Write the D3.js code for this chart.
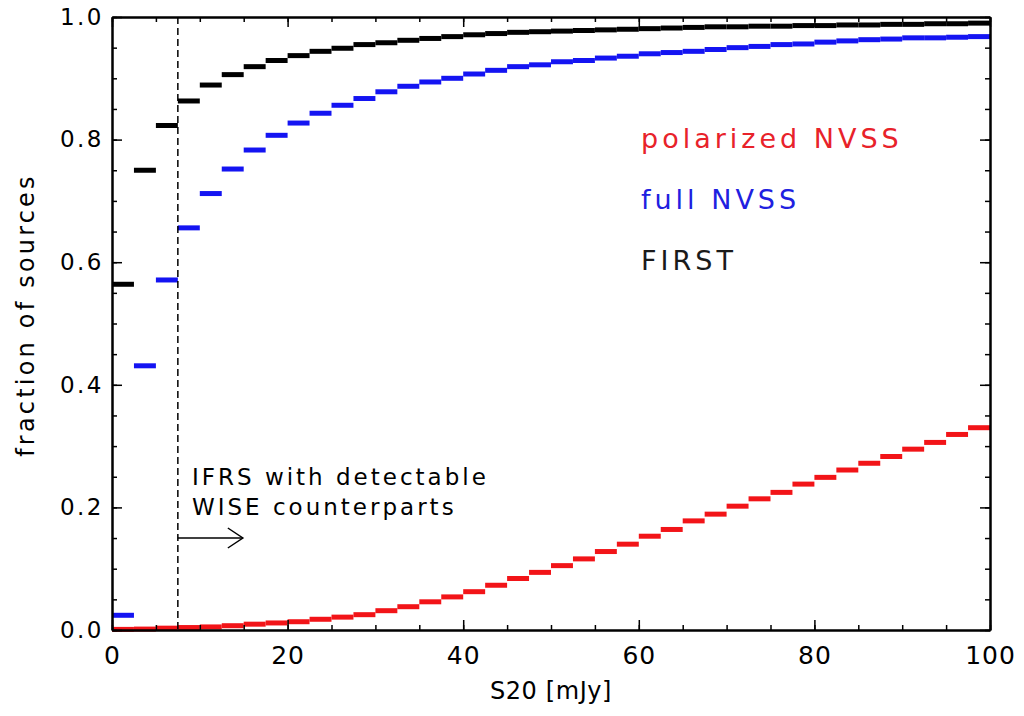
<!DOCTYPE html>
<html>
<head>
<meta charset="utf-8">
<script src="https://cdn.jsdelivr.net/npm/d3@7"></script>
<style>
  body { margin: 0; background: #fff; }
  text { font-family: "DejaVu Sans", sans-serif; }
</style>
</head>
<body>
<script>
// bin lower edges in mJy (bins are 2.5 mJy wide)
const binLo = [0, 2.5, 5, 7.5, 10, 12.5, 15, 17.5, 20, 22.5, 25, 27.5, 30, 32.5, 35, 37.5,
  40, 42.5, 45, 47.5, 50, 52.5, 55, 57.5, 60, 62.5, 65, 67.5, 70, 72.5, 75, 77.5,
  80, 82.5, 85, 87.5, 90, 92.5, 95, 97.5];
const binWidth = 2.5;

const first = [0.564, 0.750, 0.823, 0.863, 0.889, 0.906, 0.919, 0.929, 0.937, 0.944,
  0.949, 0.955, 0.958, 0.962, 0.965, 0.968, 0.971, 0.973, 0.975, 0.976,
  0.977, 0.978, 0.979, 0.980, 0.981, 0.982, 0.983, 0.984, 0.984, 0.985,
  0.985, 0.986, 0.986, 0.987, 0.987, 0.988, 0.988, 0.989, 0.989, 0.990];
const fullNvss = [0.024, 0.431, 0.571, 0.656, 0.712, 0.752, 0.783, 0.807, 0.827, 0.843,
  0.856, 0.867, 0.878, 0.887, 0.894, 0.900, 0.907, 0.913, 0.919, 0.922,
  0.927, 0.929, 0.933, 0.936, 0.940, 0.942, 0.944, 0.947, 0.950, 0.952,
  0.955, 0.956, 0.959, 0.961, 0.963, 0.964, 0.966, 0.966, 0.967, 0.968];
const polNvss = [0.001, 0.0015, 0.003, 0.004, 0.005, 0.007, 0.0095, 0.0115, 0.0135, 0.0175,
  0.021, 0.025, 0.0315, 0.038, 0.046, 0.054, 0.0625, 0.073, 0.084, 0.094,
  0.105, 0.116, 0.128, 0.140, 0.153, 0.164, 0.178, 0.189, 0.202, 0.214,
  0.2245, 0.238, 0.249, 0.261, 0.272, 0.283, 0.295, 0.306, 0.319, 0.330];

const xTicks = [0, 20, 40, 60, 80, 100];
const yTicks = [0, 0.2, 0.4, 0.6, 0.8, 1.0];
const xMinor = [0, 5, 10, 15, 20, 25, 30, 35, 40, 45, 50, 55, 60, 65, 70, 75, 80, 85, 90, 95, 100];
const yMinor = [0, 0.05, 0.1, 0.15, 0.2, 0.25, 0.3, 0.35, 0.4, 0.45, 0.5, 0.55, 0.6, 0.65,
  0.7, 0.75, 0.8, 0.85, 0.9, 0.95, 1.0];
const wiseLimit = 7.5;

const width = 1024;
const height = 716;
const margin = { left: 112, right: 34, top: 17, bottom: 86 };

const svg = d3.select("body").append("svg")
  .attr("width", width)
  .attr("height", height);

const x = d3.scaleLinear().domain([0, 100]).range([margin.left, width - margin.right]);
const y = d3.scaleLinear().domain([0, 1]).range([height - margin.bottom, margin.top]);

function drawSeries(values, color) {
  svg.append("g")
    .selectAll("line")
    .data(values)
    .enter()
    .append("line")
    .attr("x1", (d, i) => x(binLo[i]))
    .attr("x2", (d, i) => x(binLo[i] + binWidth))
    .attr("y1", (d) => y(d))
    .attr("y2", (d) => y(d))
    .attr("stroke", color)
    .attr("stroke-width", 5);
}

drawSeries(polNvss, "#f21418");
drawSeries(fullNvss, "#1414f2");
drawSeries(first, "#000");

// dashed limit line
svg.append("line")
  .attr("x1", x(wiseLimit)).attr("x2", x(wiseLimit))
  .attr("y1", y(1)).attr("y2", y(0))
  .attr("stroke", "#000")
  .attr("stroke-width", 1.5)
  .attr("stroke-dasharray", "7,4");

// axes
function styleAxis(g) {
  g.selectAll("path").attr("stroke", "#000").attr("stroke-width", 2);
  g.selectAll("line").attr("stroke", "#000").attr("stroke-width", 1.5);
  g.selectAll("text").attr("fill", "#000")
    .style("font-family", "DejaVu Sans, sans-serif");
}

const bottomY = y(0), topY = y(1), leftX = x(0), rightX = x(100);

svg.append("g").attr("transform", "translate(0," + bottomY + ")")
  .call(d3.axisBottom(x).tickValues(xMinor).tickSizeInner(-5).tickSizeOuter(0).tickFormat(""))
  .call(styleAxis);
svg.append("g").attr("transform", "translate(0," + bottomY + ")")
  .call(d3.axisBottom(x).tickValues(xTicks).tickSizeInner(-10).tickSizeOuter(0)
    .tickPadding(16).tickFormat(d3.format("d")))
  .call(styleAxis)
  .call((g) => g.selectAll("text").style("font-size", "25px").style("letter-spacing", "1px"));

svg.append("g").attr("transform", "translate(0," + topY + ")")
  .call(d3.axisTop(x).tickValues(xMinor).tickSizeInner(-5).tickSizeOuter(0).tickFormat(""))
  .call(styleAxis);
svg.append("g").attr("transform", "translate(0," + topY + ")")
  .call(d3.axisTop(x).tickValues(xTicks).tickSizeInner(-10).tickSizeOuter(0).tickFormat(""))
  .call(styleAxis);

svg.append("g").attr("transform", "translate(" + leftX + ",0)")
  .call(d3.axisLeft(y).tickValues(yMinor).tickSizeInner(-5).tickSizeOuter(0).tickFormat(""))
  .call(styleAxis);
svg.append("g").attr("transform", "translate(" + leftX + ",0)")
  .call(d3.axisLeft(y).tickValues(yTicks).tickSizeInner(-10).tickSizeOuter(0)
    .tickPadding(8).tickFormat(d3.format(".1f")))
  .call(styleAxis)
  .call((g) => g.selectAll("text").style("font-size", "23px").style("letter-spacing", "2.5px"));

svg.append("g").attr("transform", "translate(" + rightX + ",0)")
  .call(d3.axisRight(y).tickValues(yMinor).tickSizeInner(-5).tickSizeOuter(0).tickFormat(""))
  .call(styleAxis);
svg.append("g").attr("transform", "translate(" + rightX + ",0)")
  .call(d3.axisRight(y).tickValues(yTicks).tickSizeInner(-10).tickSizeOuter(0).tickFormat(""))
  .call(styleAxis);

// axis titles
svg.append("text")
  .attr("x", (leftX + rightX) / 2)
  .attr("y", 699)
  .attr("text-anchor", "middle")
  .style("font-size", "24px")
  .style("letter-spacing", "0.6px")
  .text("S20 [mJy]");

svg.append("text")
  .attr("transform", "translate(34,315) rotate(-90)")
  .attr("text-anchor", "middle")
  .style("font-size", "24px")
  .style("letter-spacing", "3.2px")
  .text("fraction of sources");

// legend
const legend = [
  { label: "polarized NVSS", color: "#e8222a", y: 148 },
  { label: "full NVSS", color: "#2020e0", y: 209 },
  { label: "FIRST", color: "#1a1a1a", y: 270 }
];
svg.append("g")
  .selectAll("text")
  .data(legend)
  .enter()
  .append("text")
  .attr("x", 641)
  .attr("y", (d) => d.y)
  .attr("fill", (d) => d.color)
  .style("font-size", "27px")
  .style("letter-spacing", "4px")
  .text((d) => d.label);

// annotation
const note = ["IFRS with detectable", "WISE counterparts"];
svg.append("g")
  .selectAll("text")
  .data(note)
  .enter()
  .append("text")
  .attr("x", 192)
  .attr("y", (d, i) => 485 + i * 30)
  .style("font-size", "23px")
  .style("letter-spacing", "3px")
  .text((d) => d);

const arrowY = 538;
const arrowEnd = x(wiseLimit) + 65;
svg.append("path")
  .attr("d", d3.line()([[x(wiseLimit), arrowY], [arrowEnd, arrowY]]))
  .attr("stroke", "#000").attr("stroke-width", 1.5).attr("fill", "none");
svg.append("path")
  .attr("d", d3.line()([[arrowEnd - 15, arrowY - 10], [arrowEnd, arrowY], [arrowEnd - 15, arrowY + 10]]))
  .attr("stroke", "#000").attr("stroke-width", 1.5).attr("fill", "none");
</script>
</body>
</html>
